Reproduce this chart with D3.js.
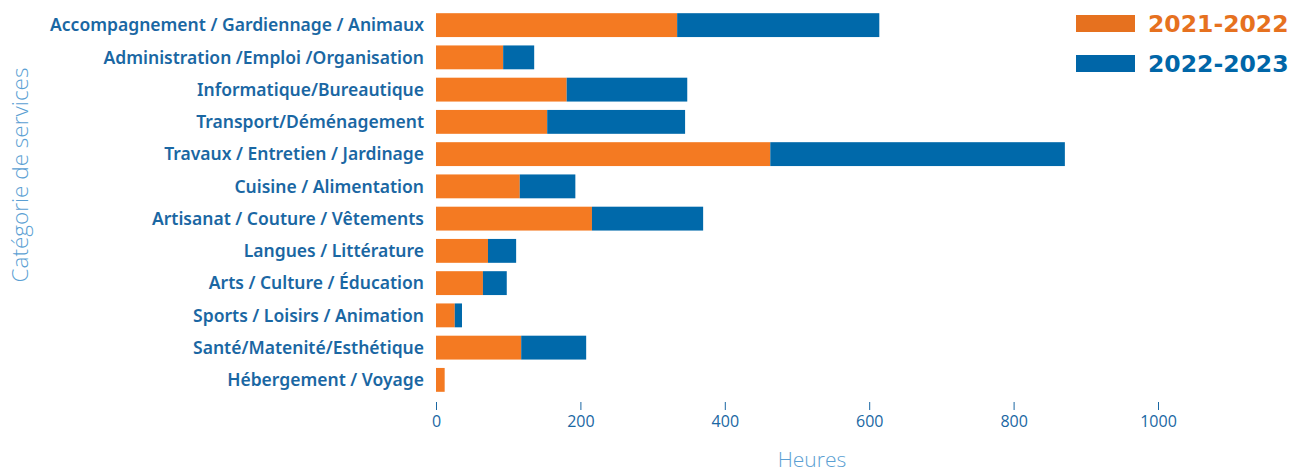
<!DOCTYPE html>
<html>
<head>
<meta charset="utf-8">
<script src="https://cdn.jsdelivr.net/npm/d3@7"></script>
<style>
  body { margin: 0; background: #fff; }
  svg { display: block; }
</style>
</head>
<body>
<svg id="chart" width="1297" height="472"></svg>
<script>
// categories, top to bottom
var categories = [
    "Accompagnement / Gardiennage / Animaux",
    "Administration /Emploi /Organisation",
    "Informatique/Bureautique",
    "Transport/Déménagement",
    "Travaux / Entretien / Jardinage",
    "Cuisine / Alimentation",
    "Artisanat / Couture / Vêtements",
    "Langues / Littérature",
    "Arts / Culture / Éducation",
    "Sports / Loisirs / Animation",
    "Santé/Matenité/Esthétique",
    "Hébergement / Voyage"
];
var hours2021 = [334, 93, 181, 154, 463, 116, 216, 72, 65, 26, 118, 12];
var hours2022 = [280, 43, 167, 191, 408, 77, 154, 39, 33, 10, 90, 0];
var seriesNames = ["2021-2022", "2022-2023"];
var xTicks = [0, 200, 400, 600, 800, 1000];

var orange = "#f47a22";
var blue = "#0069aa";
var labelBlue = "#1a67a3";

var svg = d3.select("#chart");

var x = d3.scaleLinear().domain([0, 1000]).range([436, 1158]);
var y = d3.scaleBand()
    .domain(categories)
    .range([9, 396])
    .paddingInner(0.26)
    .paddingOuter(0.13);

var rows = categories.map(function (c, i) {
    return { cat: c, a: hours2021[i], b: hours2022[i] };
});

// stacked bars
svg.append("g").selectAll("rect.a")
    .data(rows)
    .enter().append("rect")
    .attr("x", x(0))
    .attr("y", function (d) { return y(d.cat); })
    .attr("width", function (d) { return x(d.a) - x(0); })
    .attr("height", y.bandwidth())
    .style("fill", orange);

svg.append("g").selectAll("rect.b")
    .data(rows.filter(function (d) { return d.b > 0; }))
    .enter().append("rect")
    .attr("x", function (d) { return x(d.a); })
    .attr("y", function (d) { return y(d.cat); })
    .attr("width", function (d) { return x(d.a + d.b) - x(d.a); })
    .attr("height", y.bandwidth())
    .style("fill", blue);

// category labels
svg.append("g").selectAll("text")
    .data(categories)
    .enter().append("text")
    .attr("x", 424)
    .attr("y", function (d) { return y(d) + y.bandwidth() / 2; })
    .attr("dy", "0.36em")
    .attr("text-anchor", "end")
    .style("font-family", "'Noto Sans', sans-serif")
    .style("font-weight", 600)
    .style("font-size", "17.5px")
    .style("fill", labelBlue)
    .text(function (d) { return d; });

// x axis
var xAxis = d3.axisBottom(x).tickValues(xTicks).tickFormat(d3.format("d")).tickSize(8).tickPadding(6);
var gx = svg.append("g")
    .attr("transform", "translate(0,402)")
    .call(xAxis);
gx.select(".domain").remove();
gx.selectAll(".tick line").attr("stroke", labelBlue);
gx.selectAll(".tick text")
    .style("font-family", "'Open Sans', sans-serif")
    .style("font-size", "16px")
    .style("fill", labelBlue);

// axis titles
svg.append("text")
    .attr("x", 812)
    .attr("y", 461)
    .attr("dy", "0.3em")
    .attr("text-anchor", "middle")
    .style("font-family", "'Open Sans', sans-serif")
    .style("font-weight", 300)
    .style("font-size", "21px")
    .style("fill", "#5b9fd3")
    .text("Heures");

svg.append("text")
    .attr("transform", "translate(20,175) rotate(-90)")
    .attr("dy", "0.35em")
    .attr("text-anchor", "middle")
    .style("font-family", "'Open Sans', sans-serif")
    .style("font-weight", 300)
    .style("font-size", "22.5px")
    .style("fill", "#5b9fd3")
    .text("Catégorie de services");

// legend
var legendColors = ["#e6711f", "#0066a8"];
var legend = svg.append("g").selectAll("g")
    .data(seriesNames)
    .enter().append("g")
    .attr("transform", function (d, i) { return "translate(1076," + (15 + i * 40) + ")"; });
legend.append("rect")
    .attr("width", 59)
    .attr("height", 17)
    .style("fill", function (d, i) { return legendColors[i]; });
legend.append("text")
    .attr("x", 72)
    .attr("y", 8.5)
    .attr("dy", "0.36em")
    .style("font-family", "'DejaVu Sans', sans-serif")
    .style("font-weight", 700)
    .style("font-size", "23.5px")
    .style("fill", function (d, i) { return legendColors[i]; })
    .text(function (d) { return d; });
</script>
</body>
</html>
